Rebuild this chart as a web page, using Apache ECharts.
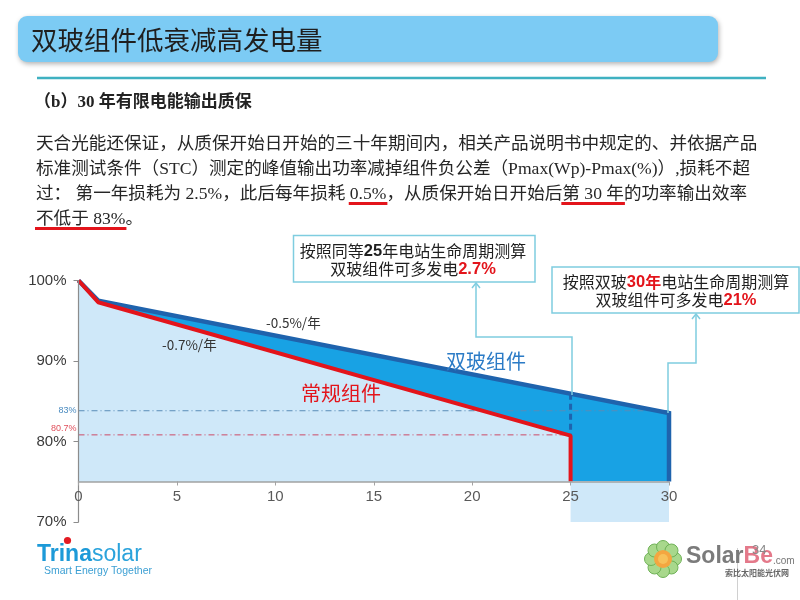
<!DOCTYPE html>
<html><head><meta charset="utf-8">
<script src="https://cdn.jsdelivr.net/npm/echarts@6/dist/echarts.min.js"></script>
<style>html,body{margin:0;padding:0;background:#fff}#c{width:800px;height:600px}</style>
</head><body><div id="c"></div>
<script>
// ---------------- data ----------------
const xMin = 0, xMax = 30, xInterval = 5;
const yMin = 70, yMax = 100, yInterval = 10;
const plotBase = 75;                       // where the x axis crosses
const dgYears  = [0, 1, 30, 30];           // 双玻组件 (double glass)
const dgValues = [100, 97.5, 83.5, 75];
const cvYears  = [0, 1, 25, 25];           // 常规组件 (conventional)
const cvValues = [100, 97.3, 80.7, 75];
const dashYears  = [25, 25];
const dashValues = [85.9, 80.7];
const refNames    = ['83%', '80.7%'];
const refValues   = [83.8, 80.8];
const refEndYears = [30, 25];
const bandYears  = [25, 30];
const bandValues = [75, 75];

const titleText = '双玻组件低衰减高发电量';
const subTitle = '（b）30 年有限电能输出质保';
const paraLines = [
  '天合光能还保证，从质保开始日开始的三十年期间内，相关产品说明书中规定的、并依据产品',
  '标准测试条件（STC）测定的峰值输出功率减掉组件负公差（Pmax(Wp)-Pmax(%)）,损耗不超',
  '过： 第一年损耗为 2.5%，此后每年损耗 0.5%，从质保开始日开始后第 30 年的功率输出效率',
  '不低于 83%。'
];
const underlines = [[2, '0.5%'], [2, '第 30 年'], [3, '不低于 83%']];

// ---------------- helpers ----------------
const pairs = (xs, ys) => xs.map((x, i) => [x, ys[i]]);
const CJK = '"Noto Sans CJK SC", sans-serif';
const SERIF = '"Liberation Serif", "Noto Sans CJK SC", serif';
const SANS = '"Liberation Sans", "Noto Sans CJK SC", sans-serif';
const mctx = document.createElement('canvas').getContext('2d');
function tw(text, size, family, weight) {
  mctx.font = (weight || 'normal') + ' ' + size + 'px ' + family;
  return mctx.measureText(text).width;
}

const paraX = 36, paraY0 = 144, paraDY = 25, paraSize = 17.6;
const graphics = [];
// header bar
graphics.push({type: 'rect', shape: {x: 18, y: 16, width: 700, height: 46, r: 9},
  style: {fill: '#7ccbf4', shadowBlur: 5, shadowColor: 'rgba(0,0,0,0.3)', shadowOffsetY: 2, shadowOffsetX: 1}});
graphics.push({type: 'text', x: 31, y: 40, style: {text: titleText, fill: '#1f1f1f',
  fontSize: 26.5, fontFamily: CJK, align: 'left', verticalAlign: 'middle', textAlign: 'left', textVerticalAlign: 'middle'}});
graphics.push({type: 'line', shape: {x1: 37, y1: 78, x2: 766, y2: 78}, style: {stroke: '#3fb1c1', lineWidth: 2.5}});
graphics.push({type: 'text', x: 34, y: 103, style: {text: subTitle, fill: '#222', fontSize: 17, fontWeight: 'bold',
  fontFamily: SERIF, align: 'left', verticalAlign: 'middle', textAlign: 'left', textVerticalAlign: 'middle'}});
paraLines.forEach((t, i) => {
  graphics.push({type: 'text', x: paraX, y: paraY0 + i * paraDY, style: {text: t, fill: '#262626', fontSize: paraSize,
    fontFamily: SERIF, align: 'left', verticalAlign: 'middle', textAlign: 'left', textVerticalAlign: 'middle'}});
});
underlines.forEach(([li, seg]) => {
  const line = paraLines[li];
  const idx = line.indexOf(seg);
  const x0 = paraX + tw(line.slice(0, idx), paraSize, SERIF);
  const w = tw(seg, paraSize, SERIF);
  graphics.push({type: 'rect', shape: {x: x0 - 1, y: paraY0 + li * paraDY + 8, width: w + 2, height: 3},
    style: {fill: '#e3141b'}});
});

// chart annotations
function txt(x, y, text, size, color, extra) {
  return Object.assign({type: 'text', x: x, y: y, z: 20, style: Object.assign({text: text, fill: color, fontSize: size,
    fontFamily: CJK, align: 'left', verticalAlign: 'middle', textAlign: 'left', textVerticalAlign: 'middle'}, extra || {})});
}
graphics.push(txt(266, 323, '-0.5%/年', 13.5, '#333'));
graphics.push(txt(162, 345, '-0.7%/年', 13.5, '#333'));
graphics.push(txt(446, 361, '双玻组件', 20, '#2b7bc6'));
graphics.push(txt(301, 393, '常规组件', 20, '#e3141b'));

// callout boxes
const boxStroke = '#7fcde0';
const rich = {
  n: {fontSize: 16, fontFamily: CJK, fill: '#1f1f1f', color: '#1f1f1f'},
  b: {fontSize: 16.5, fontFamily: SANS, fontWeight: 'bold', fill: '#1f1f1f', color: '#1f1f1f'},
  r: {fontSize: 16.5, fontFamily: SANS, fontWeight: 'bold', fill: '#e3141b', color: '#e3141b'},
  rc: {fontSize: 16, fontFamily: CJK, fontWeight: 'bold', fill: '#e3141b', color: '#e3141b'}
};
graphics.push({type: 'rect', z: 15, shape: {x: 293.5, y: 235.5, width: 241.5, height: 46.5},
  style: {fill: '#fff', stroke: boxStroke, lineWidth: 1.5}});
graphics.push({type: 'text', z: 16, x: 413, y: 251, style: {text: '{n|按照同等}{b|25}{n|年电站生命周期测算}', rich: rich,
  align: 'center', verticalAlign: 'middle', textAlign: 'center', textVerticalAlign: 'middle'}});
graphics.push({type: 'text', z: 16, x: 413, y: 269, style: {text: '{n|双玻组件可多发电}{r|2.7%}', rich: rich,
  align: 'center', verticalAlign: 'middle', textAlign: 'center', textVerticalAlign: 'middle'}});
graphics.push({type: 'rect', z: 15, shape: {x: 552, y: 267, width: 247, height: 46},
  style: {fill: '#fff', stroke: boxStroke, lineWidth: 1.5}});
graphics.push({type: 'text', z: 16, x: 676, y: 282, style: {text: '{n|按照双玻}{r|30}{rc|年}{n|电站生命周期测算}', rich: rich,
  align: 'center', verticalAlign: 'middle', textAlign: 'center', textVerticalAlign: 'middle'}});
graphics.push({type: 'text', z: 16, x: 676, y: 300, style: {text: '{n|双玻组件可多发电}{r|21%}', rich: rich,
  align: 'center', verticalAlign: 'middle', textAlign: 'center', textVerticalAlign: 'middle'}});
// connectors
graphics.push({type: 'polyline', z: 14, shape: {points: [[476, 283], [476, 337], [572, 337], [572, 395]]},
  style: {stroke: boxStroke, lineWidth: 1.5, fill: null}});
graphics.push({type: 'polyline', z: 14, shape: {points: [[472, 288], [476, 283], [480, 288]]},
  style: {stroke: boxStroke, lineWidth: 1.5, fill: null}});
graphics.push({type: 'polyline', z: 14, shape: {points: [[696, 314], [696, 363], [668, 363], [668, 413]]},
  style: {stroke: boxStroke, lineWidth: 1.5, fill: null}});
graphics.push({type: 'polyline', z: 14, shape: {points: [[692, 319], [696, 314], [700, 319]]},
  style: {stroke: boxStroke, lineWidth: 1.5, fill: null}});

// Trina logo
graphics.push({type: 'text', x: 37, y: 555, style: {text: '{a|Trina}{b|solar}', rich: {
  a: {fontSize: 23, fontWeight: 'bold', fontFamily: '"Liberation Sans Narrow", "Liberation Sans", sans-serif', fill: '#1d9ad8', color: '#1d9ad8'},
  b: {fontSize: 23, fontFamily: '"Liberation Sans Narrow", "Liberation Sans", sans-serif', fill: '#2aa3dc', color: '#2aa3dc'}},
  align: 'left', verticalAlign: 'middle', textAlign: 'left', textVerticalAlign: 'middle'}});
graphics.push({type: 'circle', shape: {cx: 67.5, cy: 540.5, r: 3.6}, style: {fill: '#e31b23'}});
graphics.push({type: 'text', x: 44, y: 571, style: {text: 'Smart Energy Together', fill: '#3b9fd3', fontSize: 10.5,
  fontFamily: '"Liberation Sans Narrow", "Liberation Sans", sans-serif', align: 'left', verticalAlign: 'middle'}});

// SolarBe logo
for (let k = 0; k < 8; k++) {
  const a = k * Math.PI / 4;
  graphics.push({type: 'circle', shape: {cx: 663 + Math.cos(a) * 12, cy: 559 + Math.sin(a) * 12, r: 6.5},
    style: {fill: '#a8d88c', stroke: '#6fb257', lineWidth: 1}});
}
graphics.push({type: 'circle', shape: {cx: 663, cy: 559, r: 9}, style: {fill: '#f4a640'}});
graphics.push({type: 'circle', shape: {cx: 663, cy: 559, r: 5}, style: {fill: '#f7c15a'}});
graphics.push({type: 'line', shape: {x1: 737.5, y1: 548, x2: 737.5, y2: 600}, style: {stroke: '#d0d0d0', lineWidth: 1}});
graphics.push({type: 'text', x: 686, y: 557, style: {text: '{a|Solar}{b|Be}{c|.com}', rich: {
  a: {fontSize: 23, fontWeight: 'bold', fontFamily: '"Liberation Sans", sans-serif', fill: '#7b7b7b', color: '#7b7b7b'},
  b: {fontSize: 23, fontWeight: 'bold', fontFamily: '"Liberation Sans", sans-serif', fill: '#e4798a', color: '#e4798a'},
  c: {fontSize: 10, fontFamily: '"Liberation Sans", sans-serif', fill: '#777', color: '#777', padding: [8, 0, 0, 0]}},
  align: 'left', verticalAlign: 'middle', textAlign: 'left', textVerticalAlign: 'middle'}});
graphics.push({type: 'text', x: 725, y: 573, style: {text: '索比太阳能光伏网', fill: '#666', fontSize: 8, fontWeight: 'bold',
  fontFamily: CJK, align: 'left', verticalAlign: 'middle'}});
graphics.push({type: 'text', x: 752, y: 550, style: {text: '34', fill: '#8a8a8a', fontSize: 13,
  fontFamily: SANS, align: 'left', verticalAlign: 'middle'}});

// ---------------- chart ----------------
const DARK_BLUE = '#1f63ad', MID_BLUE = '#18a2e4', LIGHT_BLUE = '#cfe8f9', RED = '#e3141b';
const refColors = ['#5a8cb8', '#cc4a66'];
const refLabelColors = ['#4a8bc0', '#e0505c'];

const refSeries = refValues.map((v, i) => ({
  type: 'line', xAxisIndex: 0, yAxisIndex: 0, z: 4, silent: true,
  symbol: 'circle', symbolSize: 0, showSymbol: true,
  label: {show: false},
  data: [
    {value: [xMin, v], label: {show: true, position: 'left', distance: 2, formatter: refNames[i],
      fontSize: 9, color: refLabelColors[i], fontFamily: SANS, offset: i === 1 ? [0, -6] : [0, 0]}},
    {value: [refEndYears[i], v]}
  ],
  lineStyle: {color: refColors[i], width: 1, type: [6, 3, 1, 3]}
}));

const option = {
  animation: false,
  backgroundColor: '#fff',
  grid: [
    {left: 78.5, right: 131, top: 280.5, bottom: 118.5, outerBoundsMode: 'none'},
    {left: 78.5, right: 131, top: 280.5, bottom: 78, outerBoundsMode: 'none'}
  ],
  xAxis: [
    {gridIndex: 0, type: 'value', min: xMin, max: xMax, interval: xInterval, z: 10,
      axisLine: {show: true, onZero: false, lineStyle: {color: '#a3a3a3', width: 1.5}},
      axisTick: {show: true, length: 4, lineStyle: {color: '#a3a3a3'}},
      axisLabel: {color: '#595959', fontSize: 15, margin: 8, fontFamily: SANS},
      splitLine: {show: false}},
    {gridIndex: 1, type: 'value', min: xMin, max: xMax, show: false}
  ],
  yAxis: [
    {gridIndex: 0, type: 'value', min: plotBase, max: yMax, show: false},
    {gridIndex: 1, type: 'value', min: yMin, max: yMax, interval: yInterval, z: 10,
      axisLine: {show: true, onZero: false, lineStyle: {color: '#8c8c8c', width: 1.2}},
      axisTick: {show: true, length: 5, lineStyle: {color: '#8c8c8c'}},
      axisLabel: {color: '#3a3a3a', fontSize: 15, margin: 12, formatter: '{value}%', fontFamily: SANS},
      splitLine: {show: false}}
  ],
  graphic: {elements: graphics},
  series: [
    {type: 'line', xAxisIndex: 1, yAxisIndex: 1, z: 1, silent: true, symbol: 'none',
      data: pairs(bandYears, bandValues), lineStyle: {width: 0},
      areaStyle: {color: LIGHT_BLUE, opacity: 1, origin: 'start'}},
    {type: 'line', xAxisIndex: 0, yAxisIndex: 0, z: 1, silent: true, symbol: 'none',
      data: pairs(dgYears, dgValues), lineStyle: {width: 0},
      areaStyle: {color: MID_BLUE, opacity: 1, origin: 'start'}},
    {type: 'line', xAxisIndex: 0, yAxisIndex: 0, z: 2, silent: true, symbol: 'none',
      data: pairs(cvYears, cvValues), lineStyle: {width: 0},
      areaStyle: {color: LIGHT_BLUE, opacity: 1, origin: 'start'}},
    ...refSeries,
    {type: 'line', xAxisIndex: 0, yAxisIndex: 0, z: 5, silent: true, symbol: 'none',
      data: pairs(dashYears, dashValues), lineStyle: {color: DARK_BLUE, width: 3, type: [6, 4]}},
    {type: 'line', xAxisIndex: 0, yAxisIndex: 0, z: 6, silent: true, symbol: 'none',
      data: pairs(dgYears, dgValues), lineStyle: {color: DARK_BLUE, width: 4.5, join: 'miter'}},
    {type: 'line', xAxisIndex: 0, yAxisIndex: 0, z: 7, silent: true, symbol: 'none',
      data: pairs(cvYears, cvValues), lineStyle: {color: RED, width: 4}}
  ]
};
const chart = echarts.init(document.getElementById('c'), null, {renderer: 'canvas'});
chart.setOption(option);
</script>
</body></html>
